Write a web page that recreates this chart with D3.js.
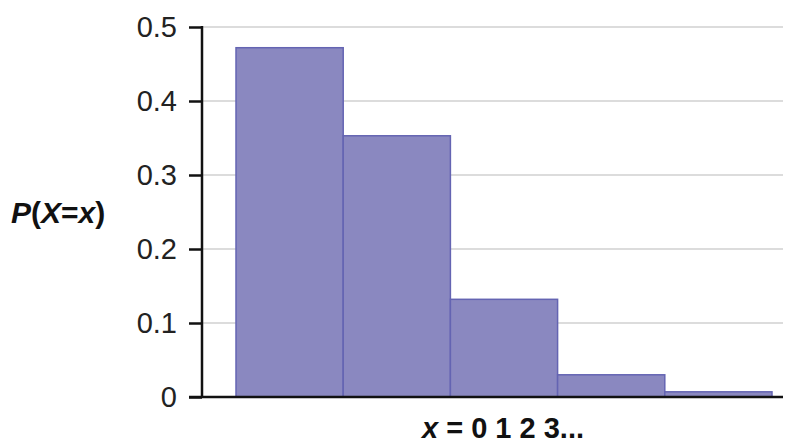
<!DOCTYPE html>
<html>
<head>
<meta charset="utf-8">
<script src="https://cdn.jsdelivr.net/npm/d3@7"></script>
<style>
  html, body { margin: 0; padding: 0; background: #fff; }
  svg { display: block; font-family: "Liberation Sans", Arial, sans-serif; }
</style>
</head>
<body>
<svg width="797" height="444"></svg>
<script>
const categories = [0, 1, 2, 3, 4];
const probs = [0.472, 0.353, 0.132, 0.03, 0.007];
const yTicks = [0, 0.1, 0.2, 0.3, 0.4, 0.5];

const svg = d3.select('svg');
const margin = { top: 27, right: 14, bottom: 47, left: 202 };
const width = 797, height = 444;
const innerWidth = width - margin.left - margin.right;
const innerHeight = height - margin.top - margin.bottom;

const g = svg.append('g')
  .attr('transform', `translate(${margin.left},${margin.top})`);

const yScale = d3.scaleLinear().domain([0, 0.5]).range([innerHeight, 0]);
const xScale = d3.scaleBand().domain(categories).range([34, 570]).paddingInner(0);

// gridlines
g.selectAll('.grid').data(yTicks.filter(d => d > 0))
  .enter().append('line')
    .attr('x1', 0).attr('x2', innerWidth)
    .attr('y1', d => yScale(d)).attr('y2', d => yScale(d))
    .attr('stroke', '#dcdcdc').attr('stroke-width', 2);

// bars
g.selectAll('rect').data(probs)
  .enter().append('rect')
    .attr('x', (d, i) => xScale(categories[i]))
    .attr('y', d => yScale(d))
    .attr('width', xScale.bandwidth())
    .attr('height', d => innerHeight - yScale(d))
    .attr('fill', '#8a88c0')
    .attr('stroke', '#6464b2')
    .attr('stroke-width', 1.5);

// y axis
const yAxisG = g.append('g')
  .call(d3.axisLeft(yScale).tickValues(yTicks).tickSize(13).tickPadding(12)
    .tickFormat(d => d === 0 ? '0' : d3.format('.1f')(d)));
yAxisG.select('.domain').remove();
yAxisG.selectAll('.tick line').attr('stroke', '#111').attr('stroke-width', 2.5);
yAxisG.selectAll('.tick text')
  .attr('font-size', 29).attr('fill', '#222')
  .attr('font-family', '"Liberation Sans", Arial, sans-serif');
g.append('line')
  .attr('x1', 0).attr('x2', 0).attr('y1', -1).attr('y2', innerHeight)
  .attr('stroke', '#111').attr('stroke-width', 2.5);

// x baseline
g.append('line')
  .attr('x1', -13).attr('x2', innerWidth).attr('y1', innerHeight).attr('y2', innerHeight)
  .attr('stroke', '#111').attr('stroke-width', 2.5);

// y label
const yl = svg.append('text')
  .attr('x', 11).attr('y', 223)
  .attr('font-size', 30).attr('font-weight', 'bold').attr('fill', '#111');
yl.append('tspan').attr('font-style', 'italic').text('P');
yl.append('tspan').text('(');
yl.append('tspan').attr('font-style', 'italic').text('X');
yl.append('tspan').text('=');
yl.append('tspan').attr('font-style', 'italic').text('x');
yl.append('tspan').text(')');

// x label
const xl = svg.append('text')
  .attr('x', 503).attr('y', 438).attr('text-anchor', 'middle')
  .attr('font-size', 29).attr('font-weight', 'bold').attr('fill', '#111');
xl.append('tspan').attr('font-style', 'italic').text('x');
xl.append('tspan').text(' = 0 1 2 3...');
</script>
</body>
</html>
